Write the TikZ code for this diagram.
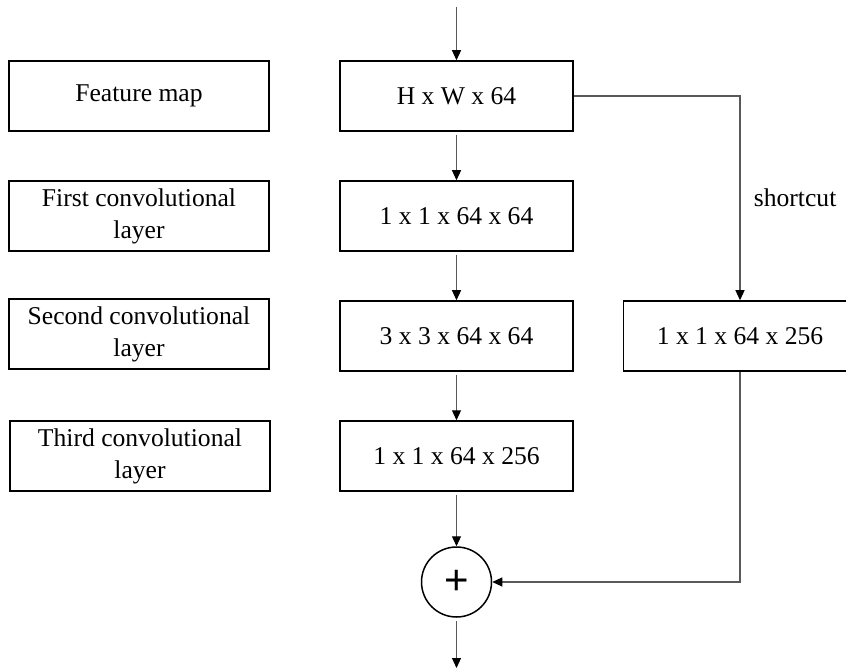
\documentclass[tikz,border=0pt]{standalone}
\usepackage{fontspec}
\setmainfont{Liberation Serif}
\newfontfamily\plusfont{Liberation Sans}
\usetikzlibrary{arrows.meta}

\begin{document}
\begin{tikzpicture}[x=1pt,y=-1pt,
    box/.style={draw,line width=1.5pt,minimum height=70pt,inner sep=0pt,align=center,
        font=\fontsize{25.6}{32}\selectfont},
    conn/.style={draw=black!65,line width=1.1pt},
    >={Triangle[length=10pt,width=9pt,color=black]}]
    \useasboundingbox (0,0) rectangle (846,668);
    % left column
    \node[box,minimum width=260pt] (fm) at (139,96) {Feature map};
    \node[box,minimum width=260pt] (c1) at (139,216) {First convolutional\\layer};
    \node[box,minimum width=260pt] (c2) at (139,334) {Second convolutional\\layer};
    \node[box,minimum width=260pt] (c3) at (140,456) {Third convolutional\\layer};
    % main path
    \node[box,minimum width=233pt] (hw) at (456.5,96) {H x W x 64};
    \node[box,minimum width=233pt] (k1) at (456.5,216) {1 x 1 x 64 x 64};
    \node[box,minimum width=233pt] (k2) at (456.5,336) {3 x 3 x 64 x 64};
    \node[box,minimum width=233pt] (k3) at (456.5,456) {1 x 1 x 64 x 256};
    \node[draw,circle,line width=1.5pt,minimum size=70pt,inner sep=0pt,
        font=\plusfont\fontsize{42}{42}\selectfont] (plus) at (456.5,582) {+};
    % shortcut branch
    \node[box,minimum width=233pt] (sc) at (740,336) {1 x 1 x 64 x 256};
    \coordinate (in) at (456.5,7);
    \coordinate (out) at (456.5,668);

    \draw[conn,->] (in) -- (hw);
    \draw[conn,->,shorten <=3pt] (hw) -- (k1);
    \draw[conn,->,shorten <=3pt] (k1) -- (k2);
    \draw[conn,->,shorten <=3pt] (k2) -- (k3);
    \draw[conn,->,shorten <=3pt] (k3) -- (plus);
    \draw[conn,->,shorten <=3pt] (plus) -- (out);
    \draw[conn,->] (hw.east) -| node[pos=0.75,right=10pt,font=\fontsize{25.6}{32}\selectfont]{shortcut} (sc.north);
    \draw[conn,->] (sc.south) |- (plus.east);
\end{tikzpicture}
\end{document}
